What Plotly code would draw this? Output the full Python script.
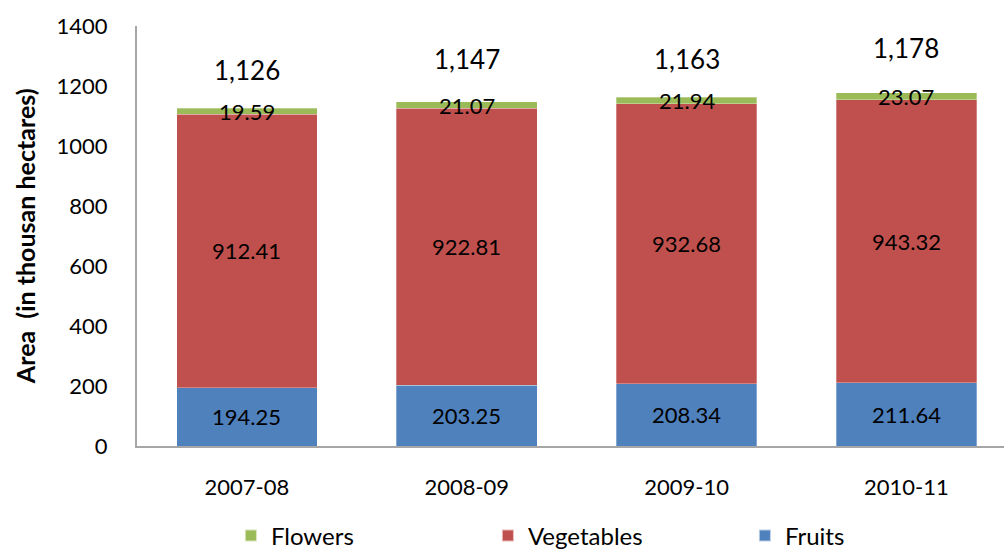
import plotly.graph_objects as go

years = ["2007-08", "2008-09", "2009-10", "2010-11"]
fruits = [194.25, 203.25, 208.34, 211.64]
vegetables = [912.41, 922.81, 932.68, 943.32]
flowers = [19.59, 21.07, 21.94, 23.07]
totals = [1126, 1147, 1163, 1178]
y_title = "Area  (in thousan hectares)"

FONT = "Lato, 'Open Sans', sans-serif"
series = [
    ("Fruits", fruits, "#4F81BD"),
    ("Vegetables", vegetables, "#C0504D"),
    ("Flowers", flowers, "#9BBB59"),
]

fig = go.Figure()
for name, vals, color in series:
    fig.add_trace(go.Bar(
        x=years, y=vals, name=name,
        marker=dict(color=color, line=dict(color="rgba(255,255,255,0.6)", width=0.5)),
        width=0.64,
    ))

# segment value labels at the middle of each stacked segment
annotations = []
base = [0.0] * len(years)
for name, vals, color in series:
    for i, v in enumerate(vals):
        annotations.append(dict(
            x=years[i], y=base[i] + v / 2, text=f"{v:.2f}", showarrow=False,
            font=dict(family=FONT, size=22, color="#000000"),
            xanchor="center", yanchor="middle",
        ))
        base[i] += v

# totals above each stack
total_shift = [38, 43, 38, 45]
for i, t in enumerate(totals):
    annotations.append(dict(
        x=years[i], y=t, text=f"{t:,}", showarrow=False,
        font=dict(family=FONT, size=26, color="#000000"),
        xanchor="center", yanchor="middle", yshift=total_shift[i],
    ))

# rotated y-axis title
annotations.append(dict(
    xref="paper", yref="paper", x=-0.129, y=0.5,
    text=f"<b>{y_title}</b>", textangle=-90, showarrow=False,
    font=dict(family=FONT, size=25, color="#000000"),
    xanchor="center", yanchor="middle",
))

fig.update_layout(
    barmode="stack",
    width=1004, height=551,
    margin=dict(l=137, r=0, t=26, b=105, autoexpand=False),
    paper_bgcolor="white", plot_bgcolor="white",
    font=dict(family=FONT, size=22, color="#000000"),
    annotations=annotations,
    showlegend=True,
    legend=dict(
        orientation="h", traceorder="reversed",
        xref="container", yref="paper",
        x=0.23, xanchor="left", y=-0.214, yanchor="middle",
        entrywidth=212, entrywidthmode="pixels",
        font=dict(family=FONT, size=24, color="#000000"),
        itemsizing="constant",
    ),
    xaxis=dict(
        type="category",
        range=[-0.5, 3.444],
        showline=True, linecolor="#A6A6A6", linewidth=2,
        ticks="", showgrid=False, zeroline=False,
        tickfont=dict(family=FONT, size=22),
        ticklabelstandoff=21,
    ),
    yaxis=dict(
        range=[0, 1400], dtick=200,
        showline=True, linecolor="#A6A6A6", linewidth=2,
        ticks="", showgrid=False, zeroline=False,
        tickfont=dict(family=FONT, size=22),
        ticklabelstandoff=23,
    ),
)

fig.write_html("out.html")
